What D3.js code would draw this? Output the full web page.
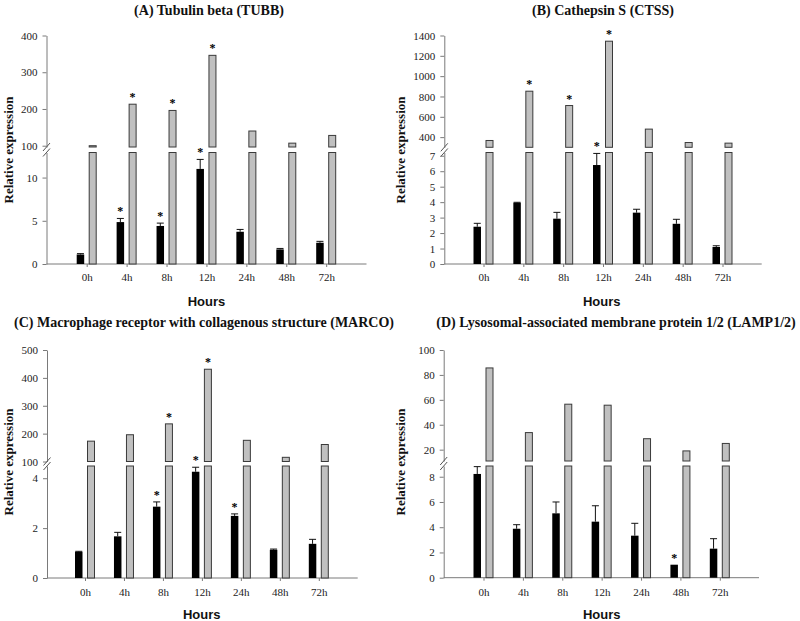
<!DOCTYPE html>
<html><head><meta charset="utf-8">
<script src="https://cdn.jsdelivr.net/npm/d3@7"></script>
<style>body{margin:0;background:#fff}svg{display:block}</style></head>
<body><svg id="c" width="800" height="621"></svg>
<script>
// ---------- data ----------
const categories = ["0h","4h","8h","12h","24h","48h","72h"];

// (A) TUBB
const tubbBlack = [1.1, 4.85, 4.4, 11.0, 3.73, 1.69, 2.46];
const tubbBlackErr = [0.1, 0.42, 0.33, 1.1, 0.27, 0.11, 0.16];
const tubbGray = [100, 213, 196, 346, 140, 107, 128];
const tubbBlackSig = ["4h","8h","12h"];
const tubbGraySig = ["4h","8h","12h"];
const tubbLowTicks = [0, 5, 10];
const tubbUpTicks = [100, 200, 300, 400];

// (B) CTSS
const ctssBlack = [2.41, 3.96, 2.93, 6.4, 3.32, 2.6, 1.1];
const ctssBlackErr = [0.22, 0.03, 0.41, 0.75, 0.22, 0.29, 0.08];
const ctssGray = [367, 852, 711, 1344, 479, 347, 341];
const ctssBlackSig = ["12h"];
const ctssGraySig = ["4h","8h","12h"];
const ctssLowTicks = [0, 1, 2, 3, 4, 5, 6, 7];
const ctssUpTicks = [400, 600, 800, 1000, 1200, 1400];

// (C) MARCO
const marcoBlack = [1.05, 1.67, 2.86, 4.26, 2.49, 1.13, 1.37];
const marcoBlackErr = [0.02, 0.16, 0.19, 0.18, 0.08, 0.03, 0.18];
const marcoGray = [173, 196, 235, 431, 176, 115, 161];
const marcoBlackSig = ["8h","12h","24h"];
const marcoGraySig = ["8h","12h"];
const marcoLowTicks = [0, 2, 4];
const marcoUpTicks = [100, 200, 300, 400, 500];

// (D) LAMP1/2
const lampBlack = [8.22, 3.88, 5.1, 4.44, 3.33, 1.03, 2.3];
const lampBlackErr = [0.58, 0.32, 0.9, 1.26, 0.98, 0.0, 0.79];
const lampGray = [85.6, 33.7, 56.5, 55.7, 28.8, 19, 25];
const lampBlackSig = ["48h"];
const lampGraySig = [];
const lampLowTicks = [0, 2, 4, 6, 8];
const lampUpTicks = [20, 40, 60, 80, 100];

// ---------- panels ----------
const panels = [
  {title:"(A) Tubulin beta (TUBB)", black:tubbBlack, err:tubbBlackErr, gray:tubbGray,
   sigB:tubbBlackSig, sigG:tubbGraySig, lowTicks:tubbLowTicks, upTicks:tubbUpTicks,
   ax:46.5, axEnd:366.5, cRange:[86.7,326.2], lowR:[264,152.5], lowD:[0,12.9], upR:[147,35.5], upD:[96.5,400],
   titleX:209, titleY:14.5, ylabX:12.5, ylabY:150, hoursX:206.5, hoursY:305.5, tickLabY:282.5},
  {title:"(B) Cathepsin S (CTSS)", black:ctssBlack, err:ctssBlackErr, gray:ctssGray,
   sigB:ctssBlackSig, sigG:ctssGraySig, lowTicks:ctssLowTicks, upTicks:ctssUpTicks,
   ax:444.3, axEnd:761.7, cRange:[483.5,722.5], lowR:[264,152.5], lowD:[0,7.21], upR:[147.3,35.5], upD:[300,1400],
   titleX:603, titleY:14.5, ylabX:404.5, ylabY:150, hoursX:601.7, hoursY:305.5, tickLabY:282.5},
  {title:"(C) Macrophage receptor with collagenous structure (MARCO)", black:marcoBlack, err:marcoBlackErr, gray:marcoGray,
   sigB:marcoBlackSig, sigG:marcoGraySig, lowTicks:marcoLowTicks, upTicks:marcoUpTicks,
   ax:47, axEnd:357.7, cRange:[85,318.8], lowR:[578,466], lowD:[0,4.49], upR:[461.5,350], upD:[100,500],
   titleX:204, titleY:326.5, ylabX:12.5, ylabY:462, hoursX:201.7, hoursY:619, tickLabY:597.5},
  {title:"(D) Lysosomal-associated membrane protein 1/2 (LAMP1/2)", black:lampBlack, err:lampBlackErr, gray:lampGray,
   sigB:lampBlackSig, sigG:lampGraySig, lowTicks:lampLowTicks, upTicks:lampUpTicks,
   ax:443.7, axEnd:759, cRange:[483.5,719.8], lowR:[577.7,466], lowD:[0,8.85], upR:[461,350], upD:[10.9,100],
   titleX:616, titleY:326.5, ylabX:404.5, ylabY:462, hoursX:601.7, hoursY:619, tickLabY:597.5}
];

const svg = d3.select("#c");
const SERIF = "'Liberation Serif','Times New Roman',serif";
const SANS = "'Liberation Sans',Arial,sans-serif";
const AXC = "#7a7a7a";
const fmt = d3.format("d");

panels.forEach(p => {
  const g = svg.append("g");
  const x = d3.scalePoint().domain(categories).range(p.cRange);
  const yLow = d3.scaleLinear().domain(p.lowD).range(p.lowR);
  const yUp = d3.scaleLinear().domain(p.upD).range(p.upR);
  const rows = categories.map((c,i)=>({c, b:p.black[i], e:p.err[i], g:p.gray[i]}));

  // title
  g.append("text").attr("x", p.titleX).attr("y", p.titleY).attr("text-anchor","middle")
    .style("font-family", SERIF).style("font-weight","bold").style("font-size","14px").attr("fill","#111")
    .text(p.title);

  // y label
  g.append("text").attr("transform", `translate(${p.ylabX},${p.ylabY}) rotate(-90)`).attr("text-anchor","middle")
    .style("font-family", SERIF).style("font-weight","bold").style("font-size","13px").attr("fill","#111")
    .text("Relative expression");

  // x title
  g.append("text").attr("x", p.hoursX).attr("y", p.hoursY).attr("text-anchor","middle")
    .style("font-family", SANS).style("font-weight","bold").style("font-size","13px").attr("fill","#111")
    .text("Hours");

  // y axes
  const styleAxis = sel => {
    sel.attr("font-family", null).attr("font-size", null);
    sel.selectAll("path.domain").attr("stroke", AXC);
    sel.selectAll(".tick line").attr("stroke", AXC);
    sel.selectAll(".tick text").style("font-family", SERIF).style("font-size","11px").attr("fill","#222");
  };
  g.append("g").attr("transform", `translate(${p.ax},0)`)
    .call(d3.axisLeft(yLow).tickValues(p.lowTicks).tickFormat(fmt).tickSize(4).tickSizeOuter(0).tickPadding(5))
    .call(styleAxis);
  g.append("g").attr("transform", `translate(${p.ax},0)`)
    .call(d3.axisLeft(yUp).tickValues(p.upTicks).tickFormat(fmt).tickSize(4).tickSizeOuter(0).tickPadding(5))
    .call(styleAxis);

  // break marks
  [p.upR[0], p.lowR[1]].forEach(yb => {
    g.append("line").attr("x1", p.ax-3.5).attr("y1", yb+4).attr("x2", p.ax+3.5).attr("y2", yb-4)
      .attr("stroke", "#555").attr("stroke-width", 1);
  });

  // x axis
  const xa = g.append("g").attr("transform", `translate(0,${p.lowR[0]})`)
    .call(d3.axisBottom(x).tickSize(3).tickSizeOuter(0).tickPadding(p.tickLabY - p.lowR[0] - 12));
  xa.attr("font-family", null).attr("font-size", null);
  xa.select("path.domain").remove();
  xa.selectAll(".tick line").attr("stroke", AXC);
  xa.selectAll(".tick text").style("font-family", SERIF).style("font-size","11px").attr("fill","#222");
  g.append("line").attr("x1", p.ax).attr("x2", p.axEnd).attr("y1", p.lowR[0]).attr("y2", p.lowR[0])
    .attr("stroke", AXC).attr("stroke-width", 1);

  // gray bars (lower part spans the whole lower segment, upper part up to value)
  g.selectAll(".gl").data(rows).enter().append("rect")
    .attr("x", d => x(d.c)+2.5).attr("width", 7)
    .attr("y", p.lowR[1]).attr("height", p.lowR[0]-p.lowR[1])
    .attr("fill", "#c0c0c0").attr("stroke", "#3a3a3a").attr("stroke-width", 1);
  g.selectAll(".gu").data(rows).enter().append("rect")
    .attr("x", d => x(d.c)+2.5).attr("width", 7)
    .attr("y", d => yUp(d.g)).attr("height", d => Math.max(1, p.upR[0]-yUp(d.g)))
    .attr("fill", "#c0c0c0").attr("stroke", "#3a3a3a").attr("stroke-width", 1);

  // error bars on black bars
  rows.forEach(d => {
    if (d.e <= 0) return;
    const cx = x(d.c) - 6.25;
    const y1 = yLow(d.b), y2 = yLow(d.b + d.e);
    g.append("line").attr("x1", cx).attr("x2", cx).attr("y1", y1).attr("y2", y2).attr("stroke","#111");
    g.append("line").attr("x1", cx-3.5).attr("x2", cx+3.5).attr("y1", y2).attr("y2", y2).attr("stroke","#111");
  });

  // black bars
  g.selectAll(".bb").data(rows).enter().append("rect")
    .attr("x", d => x(d.c)-10).attr("width", 7.5)
    .attr("y", d => yLow(d.b)).attr("height", d => p.lowR[0]-yLow(d.b))
    .attr("fill", "#000");

  // significance stars
  const star = (cx, top) => g.append("text").attr("x", cx).attr("y", top - 8.5 + 5.5)
    .attr("text-anchor","middle").style("font-family", SERIF).style("font-weight","bold")
    .style("font-size","12px").attr("fill","#000").text("*");
  rows.forEach(d => {
    if (p.sigB.includes(d.c)) star(x(d.c)-6.25, yLow(d.b + d.e));
    if (p.sigG.includes(d.c)) star(x(d.c)+6, yUp(d.g));
  });
});
</script>
</body></html>
